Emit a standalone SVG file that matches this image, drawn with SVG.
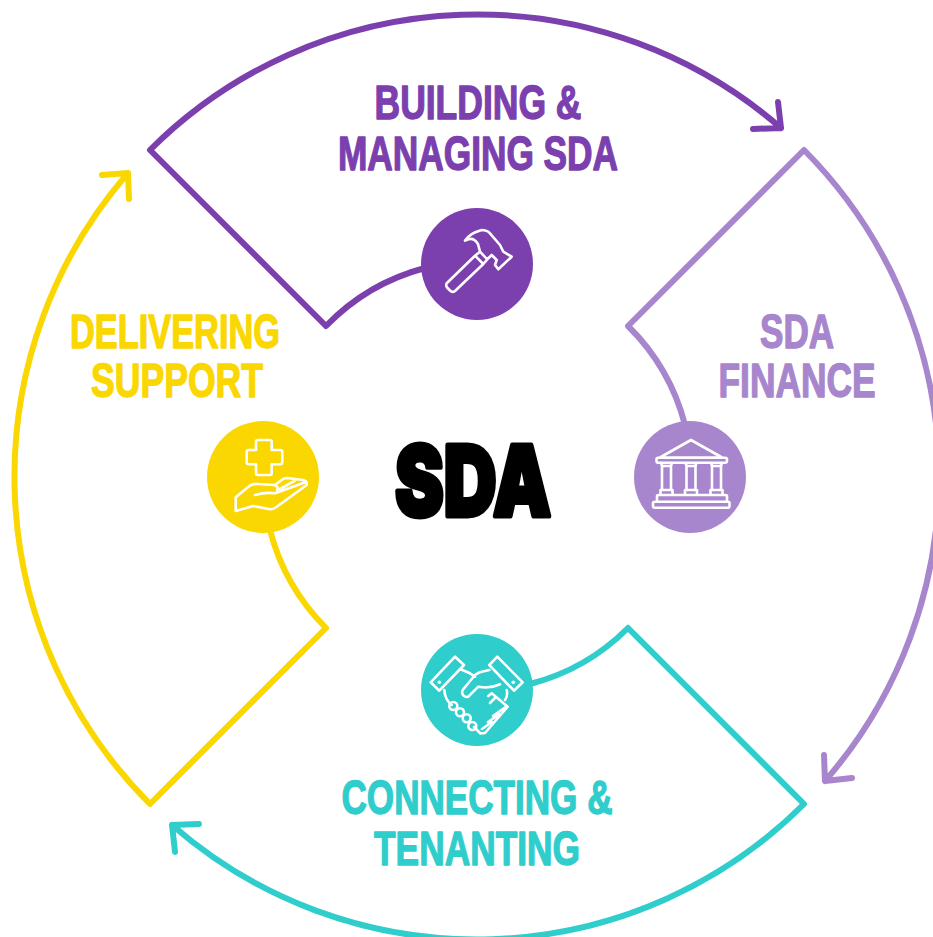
<svg xmlns="http://www.w3.org/2000/svg" width="933" height="937" viewBox="0 0 933 937">
<style>
.c{fill:none;stroke-width:6;stroke-linecap:round;stroke-linejoin:round}
.i{fill:none;stroke:#fff;stroke-width:2.6;stroke-linejoin:round;stroke-linecap:round}
.t{font-family:"Liberation Sans",Arial,sans-serif;font-weight:700;font-size:48px;stroke-width:1.4px;stroke-linejoin:round;text-anchor:middle}
.p{fill:#7b3fae;stroke:#7b3fae}.l{fill:#a886cd;stroke:#a886cd}.g{fill:#2fcdcb;stroke:#2fcdcb}.y{fill:#fad700;stroke:#fad700}
</style>
<rect width="933" height="937" fill="#fff"/>
<g id="connectors">
<path class="c" stroke="#7b3fae" d="M326 326L150 150A463 463 0 0 1 781 128M753 129L781 128L778 102M326 326A214 214 0 0 1 425 268"/>
<path class="c" stroke="#a886cd" d="M628 326L804 150A463 463 0 0 1 825 781M824 755L825 781L852 778M628 326A214 214 0 0 1 685 425"/>
<path class="c" stroke="#2fcdcb" d="M628 628L804 804A463 463 0 0 1 172 825M199 824L172 825L175 852M628 628A214 214 0 0 1 530 684"/>
<path class="c" stroke="#fad700" d="M326 628L150 804A463 463 0 0 1 128 173M102 175L128 173L129 199M326 628A214 214 0 0 1 270 530"/>
</g>
<g id="node-building">
<circle cx="477" cy="264" r="56" fill="#7b3fae"/>
<path class="i" d="M446.700 283.300L475 255.700L483.300 264L455 291Q452.500 293 450 290.500L447 287.500Q445.500 285 446.700 283.300ZM475 255.700L480 251.700L487.300 259.300L483.300 264M480 251.700L478 244Q473 236 465 240.700Q469 233.500 481.700 230Q487 230 490 233.300L500 245L503.300 251.700L511.700 256.700L498.300 269.300L495 265L496.700 260L491.700 255L487.300 259.300"/>
<text class="t p" x="478" y="119" textLength="207" lengthAdjust="spacingAndGlyphs">BUILDING &amp;</text>
<text class="t p" x="478" y="170" textLength="280" lengthAdjust="spacingAndGlyphs">MANAGING SDA</text>
</g>
<g id="node-finance">
<circle cx="690" cy="477" r="56" fill="#a886cd"/>
<path class="i" d="M691 440L722 457.500H660ZM658 457.700H725Q727 457.700 727 459.500V461Q727 462.700 725 462.700H658Q656.500 462.700 656.500 461V459.500Q656.500 457.700 658 457.700ZM661 462.700L662 466H671L672 462.700M662 466V490H671V466M660.500 495V490H672.500V495M685.500 462.700L686.500 466H695.500L696.500 462.700M686.500 466V490H695.500V466M685 495V490H697V495M711 462.700L712 466H721L722 462.700M712 466V490H721V466M710.500 495V490H722.500V495M657 501.700V496Q657 495 659 495H725Q727 495 727 496V501.700M655 501.700H728Q729.500 501.700 729.500 503V506Q729.500 507.700 728 507.700H655Q653 507.700 653 506V503Q653 501.700 655 501.700Z"/>
<text class="t l" x="797" y="348" textLength="74" lengthAdjust="spacingAndGlyphs">SDA</text>
<text class="t l" x="797" y="397" textLength="157" lengthAdjust="spacingAndGlyphs">FINANCE</text>
</g>
<g id="node-connecting">
<circle cx="477" cy="690" r="56" fill="#2fcdcb"/>
<path class="i" d="M430.700 682.300L455 656.700L464 665L439.300 690.700ZM522.700 682.300L497.300 656.700L489.300 665L514 690.700ZM489.300 670L481.700 671.700Q478 672.500 475 675L462.700 690Q461 693.500 464 696Q466.500 697.500 468.300 696.700L478.300 686.700Q490 689 500 684.300M460 669L470 673.300L475 676.700M444.300 690Q445 700 451.700 705M506.700 690Q508 696 505 700M488.300 696L491.700 693.300L507.700 706.700L485 733L480.500 733.500L474 727M500 714L488 722M492 722L482 729M507 706L493 716M490 703L496 697"/>
<circle class="i" cx="453.300" cy="706" r="4"/><circle class="i" cx="460" cy="712.300" r="4"/><circle class="i" cx="466.700" cy="718.300" r="4"/><circle class="i" cx="472.300" cy="726" r="4"/>
<circle cx="439.300" cy="682.300" r="1.800" fill="#fff"/><circle cx="513.300" cy="682.300" r="1.800" fill="#fff"/>
<text class="t g" x="477" y="814" textLength="271" lengthAdjust="spacingAndGlyphs">CONNECTING &amp;</text>
<text class="t g" x="477" y="865" textLength="206" lengthAdjust="spacingAndGlyphs">TENANTING</text>
</g>
<g id="node-delivering">
<circle cx="263" cy="477" r="56" fill="#fad700"/>
<path class="i" d="M256 442Q256 440 258 440H270Q271.700 440 271.700 442V450H280Q282.300 450 282.300 452V462Q282.300 464.300 280 464.300H271.700V473Q271.700 475 270 475H258Q256 475 256 473V464.300H248.700Q246.700 464.300 246.700 462V452Q246.700 450 248.700 450H256ZM235.700 511V497.300L250 485.500Q254 483.500 258.300 484L275 485L282.300 479.500Q284 478 287 478L303 480Q307.500 481 306.700 485L276.700 506.700Q273 509.500 270 509.300L253.300 506ZM255 495Q265 492 275 493.300L306 482M275 485.500Q279 487 277 490M280 489L295 480.700"/>
<text class="t y" x="175" y="348" textLength="210" lengthAdjust="spacingAndGlyphs">DELIVERING</text>
<text class="t y" x="177" y="397" textLength="172" lengthAdjust="spacingAndGlyphs">SUPPORT</text>
</g>
<g id="node-sda">
<text x="473" y="516" text-anchor="middle" textLength="156" lengthAdjust="spacingAndGlyphs" font-family="Inter,'Liberation Sans',Arial,sans-serif" font-weight="900" font-size="98" fill="#000" stroke="#000" stroke-width="5" stroke-linejoin="round">SDA</text>
</g>
</svg>
